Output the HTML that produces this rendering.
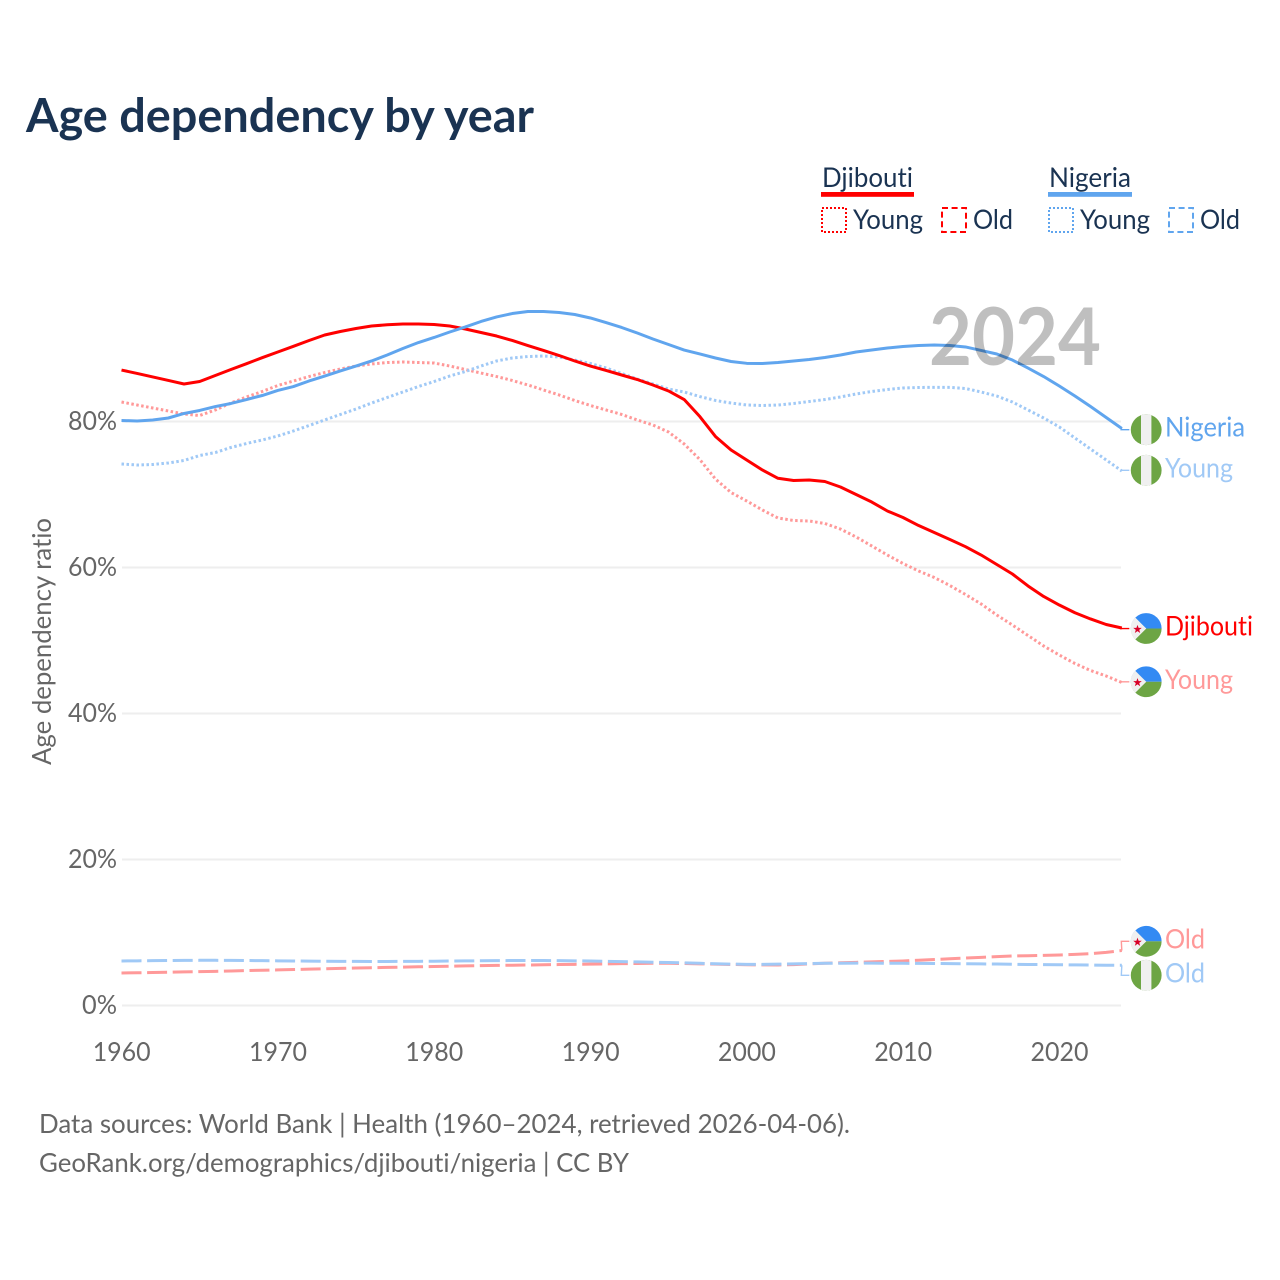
<!DOCTYPE html>
<html lang="en">
<head>
<meta charset="utf-8">
<title>Age dependency by year</title>
<style>
html,body{margin:0;padding:0;background:#fff;}
svg{display:block;}
text{font-family:"Lato","Carlito","Liberation Sans",sans-serif;font-variant-ligatures:none;}
</style>
</head>
<body>
<svg id="chart" xmlns="http://www.w3.org/2000/svg" width="1280" height="1280" viewBox="0 0 1280 1280">
  <defs>
    <clipPath id="flag-clip"><circle cx="0" cy="0" r="15.4"/></clipPath>
    <g id="flag-nigeria" clip-path="url(#flag-clip)">
      <rect x="-16" y="-16" width="32" height="32" fill="#6da544"/>
      <rect x="-5.2" y="-16" width="10.4" height="32" fill="#f0f0f0"/>
    </g>
    <g id="flag-djibouti" clip-path="url(#flag-clip)">
      <rect x="-16" y="-16" width="32" height="16" fill="#338af3"/>
      <rect x="-16" y="0" width="32" height="16" fill="#6da544"/>
      <polygon points="-15.4,-15.4 0,0 -15.4,15.4" fill="#f0f0f0"/>
      <polygon points="-11,-10.9 -4.2,-4 0,0 -4.2,4 -11,10.9 -16,12 -16,-12" fill="#f0f0f0"/>
      <polygon points="-8.7,-3.7 -7.6,-0.6 -4.4,-0.6 -7,1.4 -6,4.5 -8.7,2.6 -11.4,4.5 -10.4,1.4 -13,-0.6 -9.8,-0.6" fill="#d80027"/>
    </g>
  </defs>

  <text x="26" y="132" font-size="47" font-weight="700" fill="#1a3352" textLength="508" lengthAdjust="spacingAndGlyphs">Age dependency by year</text>

  <g>
    <text x="822" y="187" font-size="27" fill="#1a3352" textLength="91" lengthAdjust="spacingAndGlyphs">Djibouti</text>
    <rect x="821" y="192" width="93" height="4.8" fill="#ff0000"/>
    <rect x="822" y="208" width="24" height="24" fill="none" stroke="#ff0000" stroke-width="2" stroke-dasharray="2 2"/>
    <text x="853" y="229" font-size="27" fill="#1a3352" textLength="70" lengthAdjust="spacingAndGlyphs">Young</text>
    <rect x="942" y="208" width="24" height="24" fill="none" stroke="#ff0000" stroke-width="2" stroke-dasharray="6 3.6"/>
    <text x="973" y="229" font-size="27" fill="#1a3352" textLength="40" lengthAdjust="spacingAndGlyphs">Old</text>

    <text x="1049" y="187" font-size="27" fill="#1a3352" textLength="82" lengthAdjust="spacingAndGlyphs">Nigeria</text>
    <rect x="1048" y="192" width="84" height="4.8" fill="#60a5ee"/>
    <rect x="1049" y="208" width="24" height="24" fill="none" stroke="#60a5ee" stroke-width="2" stroke-dasharray="2 2"/>
    <text x="1080" y="229" font-size="27" fill="#1a3352" textLength="70" lengthAdjust="spacingAndGlyphs">Young</text>
    <rect x="1169" y="208" width="24" height="24" fill="none" stroke="#60a5ee" stroke-width="2" stroke-dasharray="6 3.6"/>
    <text x="1200" y="229" font-size="27" fill="#1a3352" textLength="40" lengthAdjust="spacingAndGlyphs">Old</text>
  </g>

  <g id="grid"></g>
  <g id="y-ticks"></g>
  <g id="x-ticks"></g>
  <text transform="translate(51,641.5) rotate(-90)" text-anchor="middle" font-size="26" fill="#666" textLength="247" lengthAdjust="spacingAndGlyphs">Age dependency ratio</text>

  <g id="series"></g>
  <g id="end-labels"></g>

  <text x="929" y="365" font-size="80" font-weight="700" fill="#000" fill-opacity="0.25" textLength="172" lengthAdjust="spacingAndGlyphs">2024</text>

  <text x="39" y="1133" font-size="26.5" fill="#666" textLength="811" lengthAdjust="spacingAndGlyphs">Data sources: World Bank | Health (1960–2024, retrieved 2026-04-06).</text>
  <text x="39" y="1172" font-size="26.5" fill="#666" textLength="590" lengthAdjust="spacingAndGlyphs">GeoRank.org/demographics/djibouti/nigeria | CC BY</text>
</svg>

<script>
const firstYear = 1960;
const lastYear = 2024;
const xTickYears = [1960, 1970, 1980, 1990, 2000, 2010, 2020];
const yTickValues = [0, 20, 40, 60, 80];

const djiboutiTotal = [
  87.05,86.58,86.10,85.62,85.14,85.48,86.30,87.12,87.92,88.74,
  89.52,90.30,91.10,91.85,92.33,92.74,93.08,93.25,93.36,93.36,
  93.29,93.08,92.67,92.19,91.71,91.10,90.41,89.73,89.04,88.29,
  87.60,86.99,86.37,85.75,85.00,84.18,83.01,80.68,77.95,76.10,
  74.73,73.36,72.22,71.92,71.99,71.78,71.03,70.00,68.97,67.74,
  66.85,65.75,64.79,63.84,62.85,61.71,60.41,59.11,57.47,56.03,
  54.86,53.80,52.95,52.19,51.71
];
const djiboutiYoung = [
  82.67,82.26,81.85,81.44,81.03,80.82,81.58,82.53,83.36,84.11,
  84.93,85.55,86.16,86.71,87.19,87.60,87.88,88.08,88.15,88.08,
  88.01,87.60,87.12,86.64,86.16,85.62,85.00,84.32,83.63,82.88,
  82.19,81.58,80.96,80.21,79.52,78.56,76.92,74.79,72.12,70.27,
  69.11,67.88,66.78,66.44,66.37,66.03,65.27,64.18,62.95,61.71,
  60.55,59.52,58.63,57.53,56.30,55.00,53.49,52.12,50.68,49.25,
  48.01,46.85,45.89,45.14,44.25
];
const djiboutiOld = [
  4.45,4.48,4.52,4.56,4.60,4.64,4.68,4.73,4.78,4.83,
  4.88,4.93,4.98,5.03,5.08,5.13,5.18,5.22,5.26,5.30,
  5.34,5.38,5.42,5.46,5.49,5.52,5.55,5.58,5.61,5.64,
  5.67,5.70,5.73,5.76,5.78,5.78,5.75,5.71,5.66,5.62,
  5.58,5.56,5.55,5.60,5.70,5.78,5.85,5.91,5.97,6.04,
  6.10,6.20,6.30,6.40,6.50,6.60,6.70,6.78,6.82,6.86,
  6.92,7.00,7.10,7.28,7.53
];
const nigeriaTotal = [
  80.14,80.07,80.21,80.48,81.10,81.51,82.05,82.47,83.01,83.56,
  84.25,84.79,85.55,86.23,86.92,87.60,88.29,89.11,90.00,90.82,
  91.51,92.26,92.95,93.70,94.32,94.79,95.07,95.07,94.93,94.66,
  94.18,93.56,92.88,92.12,91.30,90.55,89.79,89.25,88.70,88.22,
  87.97,87.95,88.08,88.29,88.49,88.77,89.11,89.52,89.79,90.07,
  90.27,90.41,90.48,90.41,90.21,89.73,89.25,88.42,87.32,86.16,
  84.86,83.49,82.05,80.55,79.04
];
const nigeriaYoung = [
  74.18,74.04,74.11,74.32,74.66,75.34,75.75,76.44,76.99,77.47,
  78.01,78.70,79.45,80.21,80.96,81.71,82.53,83.29,84.04,84.79,
  85.48,86.23,86.85,87.60,88.29,88.70,88.90,88.97,88.84,88.42,
  87.95,87.33,86.58,85.82,85.14,84.45,84.04,83.42,82.88,82.53,
  82.26,82.19,82.26,82.47,82.74,83.01,83.36,83.77,84.11,84.38,
  84.59,84.66,84.68,84.68,84.52,84.04,83.49,82.67,81.58,80.48,
  79.25,77.74,76.23,74.73,73.22
];
const nigeriaOld = [
  6.10,6.12,6.14,6.16,6.18,6.19,6.19,6.18,6.16,6.14,
  6.12,6.10,6.08,6.06,6.05,6.04,6.03,6.03,6.04,6.05,
  6.07,6.09,6.11,6.13,6.15,6.16,6.17,6.16,6.14,6.12,
  6.09,6.05,6.01,5.97,5.93,5.89,5.84,5.78,5.72,5.67,
  5.64,5.64,5.66,5.70,5.75,5.78,5.79,5.80,5.80,5.79,
  5.78,5.77,5.76,5.74,5.72,5.70,5.68,5.65,5.62,5.60,
  5.58,5.56,5.54,5.52,5.51
];

const NS = 'http://www.w3.org/2000/svg';
function xScale(year) { return 121.5 + (year - firstYear) * 15.63; }
function yScale(value) { return 1005.5 - value * 7.3; }
function make(tag, attrs, parent) {
  const el = document.createElementNS(NS, tag);
  for (const k in attrs) el.setAttribute(k, attrs[k]);
  parent.appendChild(el);
  return el;
}

const gridGroup = document.getElementById('grid');
const yTickGroup = document.getElementById('y-ticks');
const xTickGroup = document.getElementById('x-ticks');
const seriesGroup = document.getElementById('series');
const labelGroup = document.getElementById('end-labels');

yTickValues.forEach(function (v) {
  const line = make('line', {x1: 122, x2: 1121, y1: yScale(v), y2: yScale(v), stroke: '#eeeeee', 'stroke-width': 2}, gridGroup);
  
  
  const label = make('text', {x: 117, y: yScale(v) + 8.5, 'text-anchor': 'end', 'font-size': 26, fill: '#666', textLength: v === 0 ? 35 : 49, lengthAdjust: 'spacingAndGlyphs'}, yTickGroup);
  label.textContent = v + '%';
  
  
});

xTickYears.forEach(function (yr) {
  const label = make('text', {x: xScale(yr) + 0.2, y: 1061, 'text-anchor': 'middle', 'font-size': 26, fill: '#666', textLength: 58, lengthAdjust: 'spacingAndGlyphs'}, xTickGroup);
  label.textContent = String(yr);
  
  
});

const DOT = '2.5 2.5';
const DASH = '20 5.6';
const seriesList = [
  {id: 'djibouti-young', label: 'Young', values: djiboutiYoung, color: '#ff9999', dash: DOT,  flag: 'flag-djibouti', offset: -0.7, width: 68},
  {id: 'nigeria-young',  label: 'Young', values: nigeriaYoung,  color: '#a0c9f6', dash: DOT,  flag: 'flag-nigeria',  offset: -0.7, width: 68},
  {id: 'djibouti-old',   label: 'Old',   values: djiboutiOld,   color: '#ff9999', dash: DASH, flag: 'flag-djibouti', offset: -9.2, width: 40},
  {id: 'nigeria-old',    label: 'Old',   values: nigeriaOld,    color: '#a0c9f6', dash: DASH, flag: 'flag-nigeria',  offset: 10,   width: 40},
  {id: 'djibouti-total', label: 'Djibouti', values: djiboutiTotal, color: '#ff0000', dash: '', flag: 'flag-djibouti', offset: 0.5, width: 88},
  {id: 'nigeria-total',  label: 'Nigeria',  values: nigeriaTotal,  color: '#60a5ee', dash: '', flag: 'flag-nigeria',  offset: 1.2, width: 80}
];

seriesList.forEach(function (s) {
  const pts = s.values.map(function (v, i) {
    return xScale(firstYear + i).toFixed(2) + ',' + yScale(v).toFixed(2);
  }).join(' ');
  const line = make('polyline', {points: pts, fill: 'none', stroke: s.color, 'stroke-width': 3, 'stroke-linejoin': 'round'}, seriesGroup);
  if (s.dash) line.setAttribute('stroke-dasharray', s.dash);
  
  

  const endX = xScale(lastYear);
  const endY = yScale(s.values[s.values.length - 1]);
  const labelY = endY + s.offset;

  const connector = make('polyline', {points: endX + ',' + endY + ' ' + (endX - 0.5) + ',' + labelY + ' ' + (endX + 7.5) + ',' + labelY, fill: 'none', stroke: s.color, 'stroke-width': 1.4}, labelGroup);
  
  

  const flag = make('use', {href: '#' + s.flag, x: 1146.2, y: labelY}, labelGroup);
  
  

  const text = make('text', {x: 1165, y: labelY + 7, 'font-size': 27.5, fill: s.color, textLength: s.width, lengthAdjust: 'spacingAndGlyphs'}, labelGroup);
  text.textContent = s.label;
  
  
});
</script>
</body>
</html>
